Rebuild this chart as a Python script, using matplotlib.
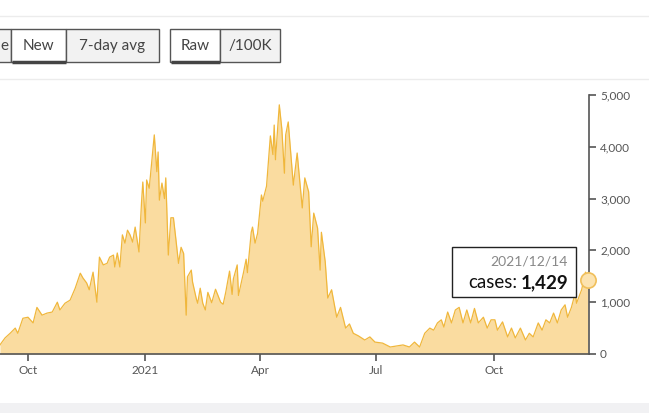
import numpy as np
import pandas as pd
import matplotlib
matplotlib.use("Agg")
import matplotlib.pyplot as plt
import matplotlib.dates as mdates
from matplotlib.patches import Rectangle
from matplotlib.ticker import FuncFormatter, MultipleLocator

plt.rcParams['font.family'] = ['Lato', 'DejaVu Sans']

# days since 2020-10-01 and daily new cases
day_offset = [-22, -18, -14, -10, -8, -4, 0, 4, 7, 11, 15, 19, 23, 25, 29, 33, 37, 41, 43, 46,
              48, 51, 54, 56, 59, 62, 64, 67, 68, 70, 72, 74, 76, 78, 80, 82, 84, 87, 89, 90,
              92, 93, 95, 96, 99, 101, 102, 103, 105, 107, 108, 110, 112, 114, 116, 118, 120, 122, 124, 125,
              128, 129, 132, 133, 135, 137, 139, 141, 144, 147, 151, 153, 155, 158, 160, 161, 164, 165, 169, 171,
              172, 175, 176, 178, 180, 183, 184, 187, 190, 192, 193, 194, 197, 199, 201, 202, 204, 208, 211, 215,
              217, 220, 222, 224, 227, 229, 230, 233, 235, 238, 242, 245, 249, 252, 255, 259, 264, 268, 272, 278,
              284, 289, 294, 299, 303, 307, 311, 315, 318, 321, 324, 326, 329, 332, 335, 338, 341, 344, 347, 350,
              353, 357, 360, 363, 366, 368, 372, 376, 379, 382, 386, 390, 393, 396, 400, 403, 406, 409, 412, 415,
              418, 421, 423, 426, 429, 430, 434, 437, 439]
cases = [175, 310, 400, 500, 400, 690, 710, 600, 900, 750, 790, 810, 1000, 850, 980, 1040, 1270, 1560, 1470, 1370,
         1240, 1580, 1000, 1870, 1720, 1750, 1870, 1910, 1680, 1950, 1680, 2300, 2140, 2390, 2300, 2160, 2450, 1970, 2930, 3320,
         2530, 3360, 3200, 3450, 4230, 3520, 3900, 2970, 3300, 3000, 3400, 1910, 2630, 2630, 2200, 1750, 2060, 1940, 750, 1490,
         1620, 1390, 1060, 980, 1270, 980, 850, 1190, 990, 1250, 1000, 960, 1190, 1600, 1150, 1450, 1720, 1130, 1580, 1830,
         1570, 2350, 2450, 2140, 2330, 3070, 2950, 3240, 4210, 3850, 4420, 3750, 4810, 4340, 3490, 4230, 4480, 3260, 3880, 2820,
         3400, 3130, 2070, 2720, 2430, 1620, 2350, 1780, 1080, 1240, 710, 900, 500, 580, 400, 350, 270, 330, 230, 210,
         135, 155, 175, 135, 230, 135, 400, 500, 460, 600, 660, 520, 810, 600, 850, 900, 600, 850, 600, 880,
         600, 710, 500, 660, 660, 460, 620, 330, 500, 310, 500, 270, 400, 330, 600, 460, 660, 600, 790, 600,
         850, 950, 710, 900, 1180, 980, 1240, 1580, 1429]

buttons_left = ["e", "New", "7-day avg"]
buttons_right = ["Raw", "/100K"]
tip_date = "2021/12/14"

start = pd.Timestamp("2020-10-01")
dates = start + pd.to_timedelta(day_offset, unit="D")

W, H = 649, 413
fig = plt.figure(figsize=(W / 100, H / 100), dpi=100)
fig.patch.set_facecolor("white")

# chart axes: x from 0 to 589 px, y from 95 to 354 px
ax = fig.add_axes([0, (H - 354) / H, 589 / W, (354 - 95) / H])
fill_c = "#fadca0"
line_c = "#f0b73c"
ax.fill_between(dates, cases, 0, color=fill_c, lw=0, zorder=1)
ax.plot(dates, cases, color=line_c, lw=0.9, zorder=2)
ax.plot(dates[-1], cases[-1], "o", ms=11, mfc="#fce3b0", mec="#f0bf5a", mew=1.2,
        clip_on=False, zorder=5)

px_per_day = (588 - 28) / 439.0
ax.set_xlim(start - pd.Timedelta(days=28 / px_per_day), start + pd.Timedelta(days=(589 - 28) / px_per_day))
ax.set_ylim(0, 5000)

for s in ["left", "top"]:
    ax.spines[s].set_visible(False)
for s in ["right", "bottom"]:
    ax.spines[s].set_color("#555555")
    ax.spines[s].set_linewidth(1.2)

ax.yaxis.tick_right()
ax.yaxis.set_major_locator(MultipleLocator(1000))
ax.yaxis.set_major_formatter(FuncFormatter(lambda v, p: f"{int(v):,}"))
ax.xaxis.set_major_locator(mdates.MonthLocator(bymonth=[1, 4, 7, 10]))
ax.xaxis.set_major_formatter(FuncFormatter(
    lambda v, p: str(mdates.num2date(v).year) if mdates.num2date(v).month == 1 else mdates.num2date(v).strftime("%b")))
ax.tick_params(axis="both", direction="out", length=5, width=1.2, color="#555555",
               labelcolor="#555555", labelsize=8.5, pad=3)
ax.patch.set_alpha(0)

# overlay in pixel coordinates for the page controls
ov = fig.add_axes([0, 0, 1, 1])
ov.set_xlim(0, W)
ov.set_ylim(H, 0)
ov.axis("off")
ov.patch.set_alpha(0)

ov.plot([0, W], [16, 16], color="#ececec", lw=1)
ov.plot([0, W], [79, 79], color="#ececec", lw=1)
ov.add_patch(Rectangle((0, 403), W, 10, color="#f1f1f3", lw=0))

def button_row(labels, edges, selected, text_x=None):
    for i, lab in enumerate(labels):
        x0, x1 = edges[i], edges[i + 1]
        fc = "white" if i == selected else "#f2f2f2"
        ov.add_patch(Rectangle((x0, 29), x1 - x0, 33, fc=fc, ec="#555555", lw=1))
        if i == selected:
            ov.plot([x0 + 1, x1], [62, 62], color="#444444", lw=2.5, solid_capstyle="butt")
        tx = (x0 + x1) / 2
        if text_x is not None and text_x[i] is not None:
            tx = text_x[i]
        ov.text(tx, 46, lab, ha="center", va="center", fontsize=11, color="#444444")

# the first button is cut by the left edge, only its last letter shows
button_row(buttons_left, [-60, 11, 66, 159], 1, text_x=[4.5, None, None])
button_row(buttons_right, [170, 220, 280], 0)

# tooltip
ov.add_patch(Rectangle((452, 247), 124, 50, fc="white", ec="#222222", lw=1, zorder=6))
ov.text(568, 262, tip_date, ha="right", va="center", fontsize=10, color="#888888", zorder=7)
num = ov.text(568, 283, f"{cases[-1]:,}", ha="right", va="center", fontsize=13.5,
              fontweight="bold", color="#111111", zorder=7)
fig.canvas.draw()
bb = num.get_window_extent()
ov.text(bb.x0 - 3, 283, "cases:", ha="right", va="center", fontsize=13.5, color="#111111", zorder=7)

fig.savefig("out.png", dpi=100)
